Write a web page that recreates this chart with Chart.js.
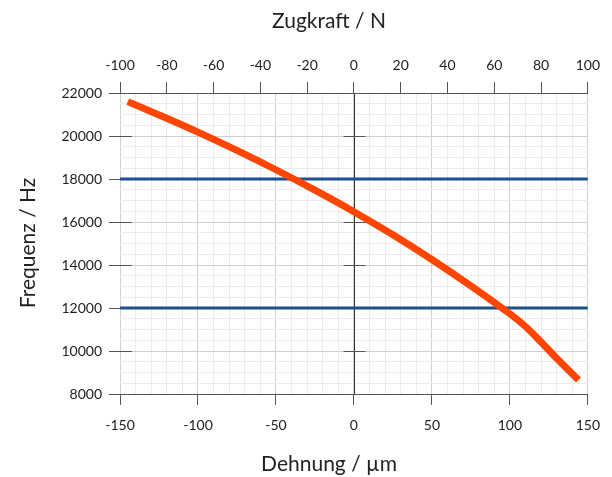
<!DOCTYPE html>
<html>
<head>
<meta charset="utf-8">
<script src="https://cdn.jsdelivr.net/npm/chart.js@4/dist/chart.umd.min.js"></script>
<style>
  body { margin: 0; background: #fff; }
  #wrap { width: 612px; height: 477px; }
</style>
</head>
<body>
<div id="wrap"><canvas id="myChart"></canvas></div>
<script>
const dehnung = [-145, -125, -100, -75, -50, -25, 0, 25, 50, 75, 100, 110, 120, 130, 144];
const frequenz = [21600, 20980, 20180, 19330, 18430, 17480, 16480, 15405, 14255, 13030, 11730, 11140, 10420, 9660, 8650];

// Grenzlinien
const grenzen = [18000, 12000];
const dehnungBereich = [-150, 150];
const zugkraftBereich = [-100, 100];
const frequenzBereich = [8000, 22000];

const titelOben = 'Zugkraft / N';
const titelUnten = 'Dehnung / µm';
const titelLinks = 'Frequenz / Hz';

const schrift = 'Lato, "DejaVu Sans", sans-serif';

const kurve = dehnung.map((x, i) => ({ x: x, y: frequenz[i] }));

const datasets = [{
  label: 'Frequenz',
  data: kurve,
  borderColor: '#ff4500',
  borderWidth: 7,
  pointRadius: 0,
  tension: 0.4,
  fill: false
}];

grenzen.forEach(g => {
  datasets.push({
    label: 'Grenze ' + g,
    data: [{ x: dehnungBereich[0], y: g }, { x: dehnungBereich[1], y: g }],
    borderColor: '#1c4f8e',
    borderWidth: 3,
    pointRadius: 0,
    fill: false
  });
});

// Nulllinie, kleine Striche an der y-Achse und an der Nulllinie, dazu die Achsentitel
const extras = {
  id: 'extras',
  beforeDatasetsDraw(chart) {
    const ctx = chart.ctx;
    const x = chart.scales.x;
    const y = chart.scales.y;
    const x0 = Math.round(x.getPixelForValue(0)) + 0.5;
    ctx.save();
    ctx.strokeStyle = '#333';
    ctx.lineWidth = 1;
    ctx.beginPath();
    ctx.moveTo(x0, y.top);
    ctx.lineTo(x0, y.bottom);
    ctx.stroke();
    ctx.strokeStyle = '#555';
    for (let v = frequenzBereich[0]; v <= frequenzBereich[1]; v += 2000) {
      const py = Math.round(y.getPixelForValue(v)) + 0.5;
      ctx.beginPath();
      ctx.moveTo(x.left, py);
      ctx.lineTo(x.left + 12, py);
      ctx.moveTo(x0 - 11, py);
      ctx.lineTo(x0 + 11, py);
      ctx.stroke();
    }
    ctx.restore();
  },
  afterDraw(chart) {
    const ctx = chart.ctx;
    ctx.save();
    ctx.fillStyle = '#222';
    ctx.font = '21px ' + schrift;
    ctx.textAlign = 'center';
    ctx.textBaseline = 'middle';
    ctx.fillText(titelOben, 329, 21);
    ctx.fillText(titelUnten, 329, 464);
    ctx.translate(28, 243);
    ctx.rotate(-Math.PI / 2);
    ctx.fillText(titelLinks, 0, 0);
    ctx.restore();
  }
};

const tickFont = { family: schrift, size: 14 };

new Chart(document.getElementById('myChart').getContext('2d'), {
  type: 'line',
  data: { datasets: datasets },
  plugins: [extras],
  options: {
    responsive: true,
    maintainAspectRatio: false,
    animation: false,
    layout: { padding: { left: 0, right: 23, top: 0, bottom: 0 } },
    plugins: {
      legend: { display: false },
      tooltip: { enabled: false }
    },
    scales: {
      x: {
        type: 'linear',
        position: 'bottom',
        min: dehnungBereich[0],
        max: dehnungBereich[1],
        afterFit: s => { s.height = 83; },
        ticks: {
          stepSize: 10,
          autoSkip: false,
          maxRotation: 0,
          padding: 12,
          color: '#222',
          font: tickFont,
          callback: v => (v % 50 === 0 ? v : '')
        },
        grid: {
          color: c => (c.tick.value % 50 === 0 ? '#d0d0d0' : '#ececec'),
          tickColor: c => (c.tick.value % 50 === 0 ? '#555' : 'rgba(0,0,0,0)'),
          tickLength: 11
        },
        border: { display: true, color: '#555' }
      },
      x2: {
        type: 'linear',
        position: 'top',
        min: zugkraftBereich[0],
        max: zugkraftBereich[1],
        afterFit: s => { s.height = 93; },
        ticks: {
          stepSize: 20,
          autoSkip: false,
          maxRotation: 0,
          padding: 8,
          color: '#222',
          font: tickFont
        },
        grid: {
          drawOnChartArea: false,
          tickColor: '#555',
          tickLength: 11
        },
        border: { display: true, color: '#555' }
      },
      y: {
        type: 'linear',
        min: frequenzBereich[0],
        max: frequenzBereich[1],
        afterFit: s => { s.width = 120; },
        ticks: {
          stepSize: 500,
          autoSkip: false,
          padding: 7,
          color: '#222',
          font: tickFont,
          callback: v => (v % 2000 === 0 ? v : '')
        },
        grid: {
          color: c => (c.tick.value % 2000 === 0 ? '#d0d0d0' : '#ececec'),
          tickColor: c => (c.tick.value % 2000 === 0 ? '#555' : 'rgba(0,0,0,0)'),
          tickLength: 11
        },
        border: { display: false }
      }
    }
  }
});
</script>
</body>
</html>
